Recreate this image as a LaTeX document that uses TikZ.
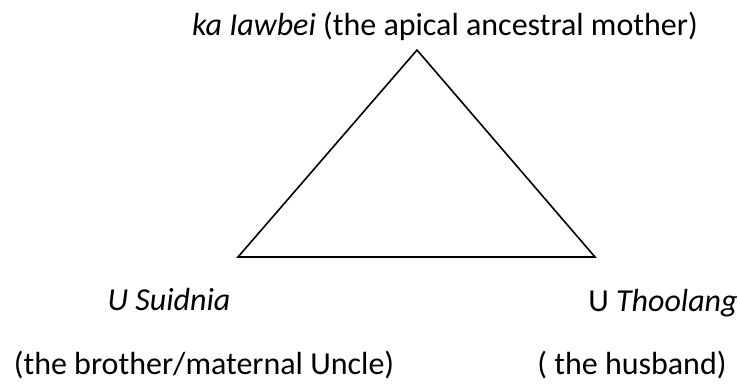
\documentclass[tikz,border=0pt]{standalone}
\usepackage{fontspec}
\setmainfont{Carlito}
\usetikzlibrary{positioning}

\begin{document}
\begin{tikzpicture}[
      x=1pt, y=-1pt,
      every node/.style={font=\fontsize{32}{38}\selectfont, inner sep=0pt},
      kinlabel/.style={anchor=base},
      kinline/.style={draw=black, line width=1.6pt, line join=miter}
    ]
      \useasboundingbox (0,0) rectangle (739,383);
      % corners of the triangle
      \coordinate (mother) at (417,50);
      \coordinate (uncle) at (238,257);
      \coordinate (husband) at (595,257);
      \draw[kinline] (mother) -- (uncle) -- (husband) -- cycle;
      % labels
      \node[kinlabel] (ancestress) at (445,35) {\textit{ka Iawbei} (the apical ancestral mother)};
      \node[kinlabel] (suidnia) at (169,310) {\textit{U Suidnia}};
      \node[kinlabel] (thoolang) at (663,311) {U \textit{Thoolang}};
      \node[kinlabel] (brother) at (204,374) {(the brother/maternal Uncle)};
      \node[kinlabel] (spouse) at (632,374) {( the husband)};
    \end{tikzpicture}
\end{document}
